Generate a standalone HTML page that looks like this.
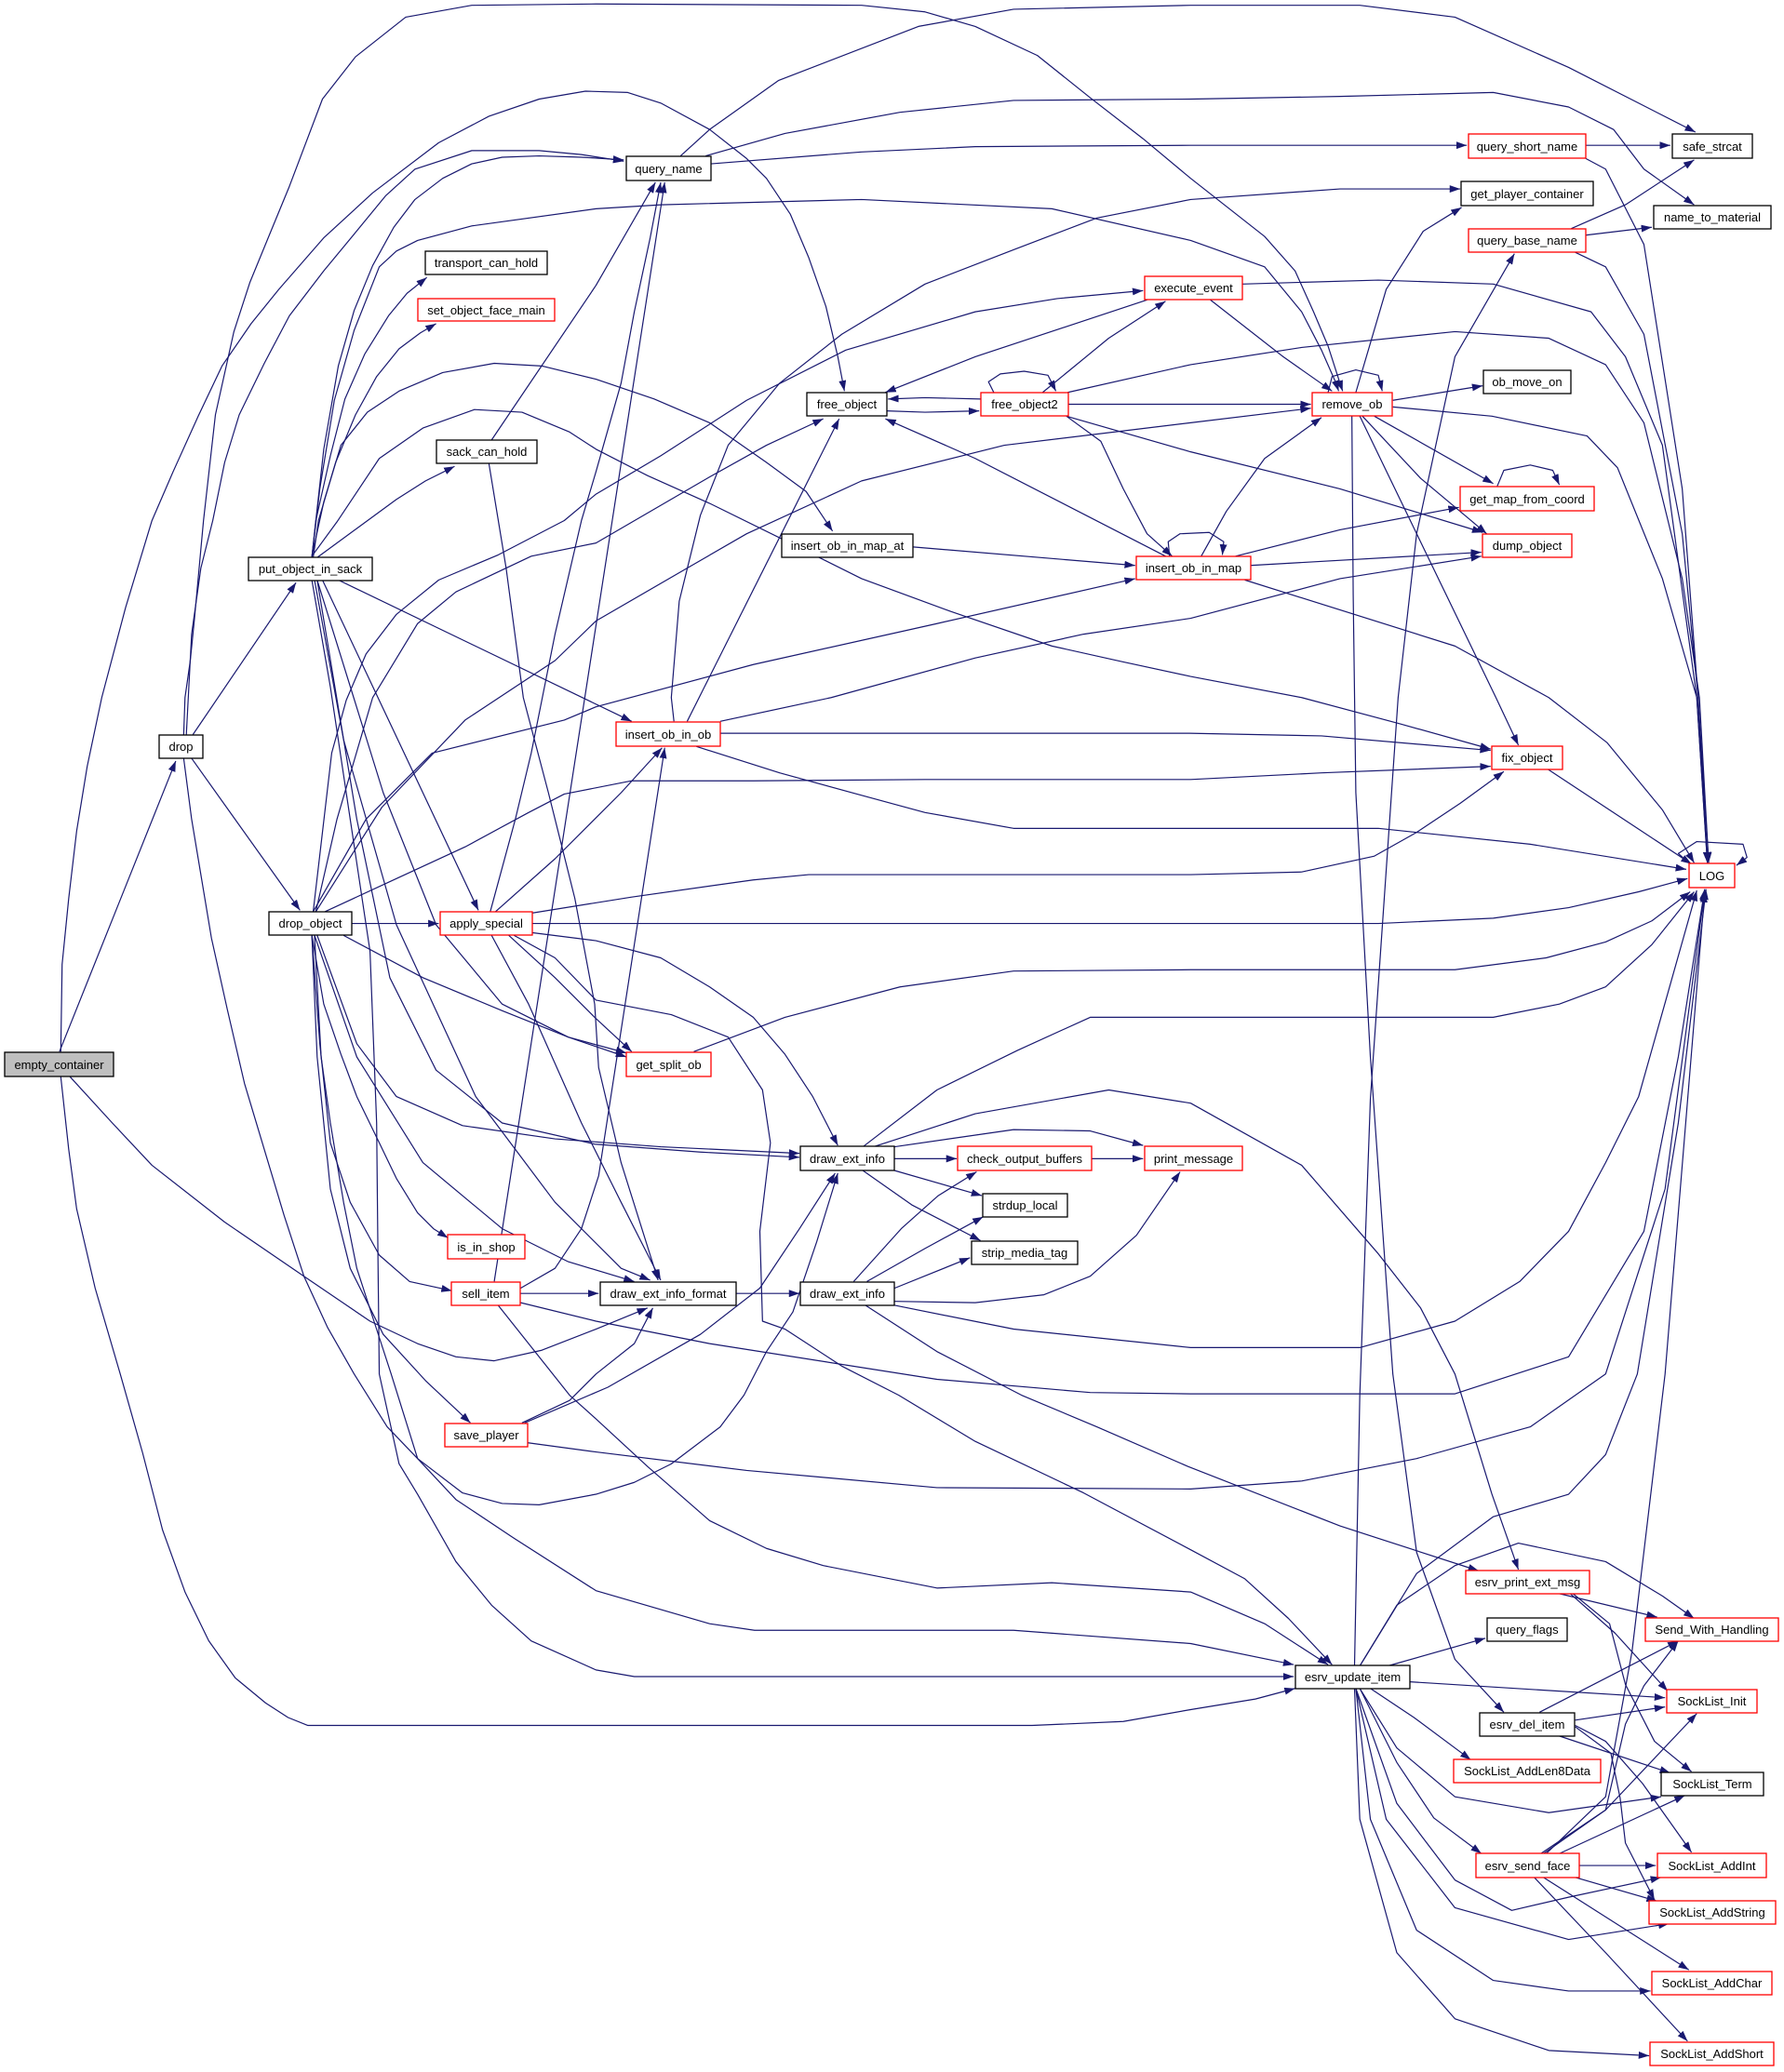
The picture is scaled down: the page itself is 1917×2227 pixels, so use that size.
<!DOCTYPE html>
<html><head><meta charset="utf-8"><style>
html,body{margin:0;padding:0;background:#fff;}
svg{display:block;}
text{font-family:"Liberation Sans",Arial,sans-serif;font-size:13px;fill:#000;text-anchor:middle;}
.e path{fill:none;stroke:#191970;stroke-width:1.2;vector-effect:non-scaling-stroke;marker-end:url(#a);stroke-linejoin:round;}
.n rect{fill:#fff;stroke:#000;stroke-width:1.3;}
.n rect.r{stroke:#ff0000;}
.n rect.g{fill:#bfbfbf;}
</style></head><body>
<svg width="1917" height="2227" viewBox="0 0 1917 2227" xmlns="http://www.w3.org/2000/svg">
<defs>
<marker id="a" viewBox="0 0 10 10" refX="10" refY="5" markerWidth="8" markerHeight="5.6" markerUnits="userSpaceOnUse" orient="auto" preserveAspectRatio="none"><path d="M0,0 L10,5 L0,10 z" fill="#191970"/></marker>
</defs>
<g class="e" transform="scale(1.42)">
<path d="M45,796 L133,576"/>
<path d="M46,796 L47,730 L52,680 L58,629 L66,580 L77,528 L95,460 L115,394 L131,357 L150,315 L168,277 L190,245 L211,219 L245,180 L282,146 L332,108 L370,88 L408,75 L443,69 L475,70 L500,78 L537,98 L565,120 L580,135 L598,162 L612,195 L625,232 L634,270 L639,296"/>
<path d="M46,815 L52,870 L58,915 L72,975 L91,1040 L108,1100 L123,1158 L140,1205 L158,1242 L178,1270 L201,1289 L218,1300 L233,1306 L451,1306 L781,1306 L850,1303 L901,1294 L950,1286 L980,1278"/>
<path d="M53,815 L85,850 L115,882 L170,925 L230,966 L280,1000 L316,1017 L345,1027 L374,1030 L410,1022 L451,1006 L490,990"/>
<path d="M146,556 L224,441"/>
<path d="M145,574 L227,689"/>
<path d="M139,556 L140,528 L144,500 L147,470 L154,394 L163,314 L177,251 L189,214 L205,175 L219,141 L244,75 L269,43 L307,13 L357,4 L451,3 L652,4 L700,9 L738,20 L785,42 L825,74 L865,105 L901,135 L957,179 L980,205 L994,236 L1005,262 L1014,290 L1016,296"/>
<path d="M141,556 L145,480 L152,430 L161,394 L170,350 L181,314 L200,275 L219,239 L245,205 L269,176 L292,148 L314,128 L357,114 L408,114 L440,117 L472,122"/>
<path d="M139,574 L145,620 L150,650 L160,710 L172,764 L185,820 L200,870 L215,920 L230,966 L248,1005 L268,1040 L293,1080 L316,1104 L350,1130 L380,1138 L408,1139 L451,1131 L480,1122 L508,1108 L545,1080 L563,1056 L580,1023 L600,993 L618,940 L634,888"/>
<path d="M236,422 L239,394 L245,340 L256,277 L268,235 L282,201 L298,172 L314,151 L335,135 L357,124 L380,119 L408,118 L440,119 L472,121"/>
<path d="M236,422 L239,394 L250,345 L261,302 L276,268 L294,239 L308,222 L323,210"/>
<path d="M237,422 L241,394 L254,350 L269,314 L285,285 L302,264 L318,252 L330,245"/>
<path d="M240,422 L270,400 L300,378 L322,364 L344,353"/>
<path d="M236,422 L242,370 L253,303 L268,250 L287,202 L300,190 L316,182 L357,171 L451,158 L500,155 L652,151 L796,158 L901,182 L957,202 L985,236 L1000,265 L1011,290 L1013,296"/>
<path d="M236,421 L245,380 L258,337 L278,312 L302,296 L335,282 L374,275 L410,277 L451,287 L495,302 L537,320 L580,350 L610,372 L630,402"/>
<path d="M236,421 L255,395 L287,347 L320,324 L359,310 L395,312 L431,327 L451,340 L490,360 L537,381 L600,412 L652,438 L720,463 L796,489 L850,501 L901,512 L985,528 L1060,548 L1128,567"/>
<path d="M244,439 L362,689"/>
<path d="M256,439 L478,546"/>
<path d="M238,439 L260,560 L300,700 L360,830 L420,910 L470,960 L492,969"/>
<path d="M240,439 L290,600 L330,700 L380,760 L430,785 L474,797"/>
<path d="M240,439 L270,620 L295,740 L330,810 L380,850 L450,866 L530,872 L605,876"/>
<path d="M236,439 L250,520 L265,620 L280,720 L285,850 L286,950 L287,1040 L302,1108 L316,1131 L345,1182 L372,1215 L402,1242 L451,1264 L480,1269 L700,1269 L901,1269 L979,1269"/>
<path d="M266,699 L332,699"/>
<path d="M237,690 L251,570 L262,530 L277,495 L300,465 L332,439 L377,420 L427,394 L451,374 L500,345 L565,303 L640,265 L738,236 L800,226 L865,220"/>
<path d="M239,690 L255,620 L282,528 L316,472 L345,448 L402,421 L451,411 L537,361 L580,337 L623,317"/>
<path d="M239,690 L289,611 L352,545 L420,500 L451,470 L520,430 L565,404 L652,364 L760,337 L901,320 L992,309"/>
<path d="M237,690 L277,620 L327,570 L427,545 L451,535 L570,503 L709,472 L859,438"/>
<path d="M246,690 L300,665 L352,641 L400,615 L427,601 L478,591 L570,591 L700,590 L901,590 L1000,585 L1128,580"/>
<path d="M260,708 L320,740 L380,765 L430,785 L474,800"/>
<path d="M240,708 L270,790 L300,830 L350,852 L420,862 L500,868 L605,873"/>
<path d="M238,708 L270,800 L320,880 L380,930 L430,955 L480,970"/>
<path d="M236,708 L245,760 L258,798 L270,830 L287,865 L300,892 L316,918 L328,930 L339,937"/>
<path d="M236,708 L242,790 L250,865 L265,910 L287,950 L310,970 L342,977"/>
<path d="M236,708 L240,800 L250,900 L265,960 L290,1010 L322,1045 L356,1077"/>
<path d="M238,708 L243,800 L250,850 L260,910 L270,960 L283,1000 L296,1040 L316,1104 L345,1135 L390,1165 L451,1204 L537,1229 L571,1234 L767,1234 L901,1244 L979,1260"/>
<path d="M371,690 L390,620 L402,570 L420,480 L440,394 L451,357 L470,290 L480,236 L492,180 L500,138"/>
<path d="M375,690 L420,650 L470,600 L501,566"/>
<path d="M403,691 L478,679 L570,666 L612,662 L901,662 L985,660 L1040,648 L1072,630 L1105,608 L1138,584"/>
<path d="M403,699 L901,699 L1043,699 L1130,695 L1187,687 L1240,675 L1277,665"/>
<path d="M403,706 L451,712 L500,725 L537,747 L570,770 L594,798 L615,830 L634,867"/>
<path d="M372,708 L400,760 L440,850 L470,910 L500,969"/>
<path d="M385,708 L420,740 L450,770 L478,796"/>
<path d="M389,708 L420,725 L451,757 L508,768 L551,785 L577,825 L583,865 L575,932 L577,1000 L594,1006 L637,1034 L680,1056 L738,1091 L820,1130 L901,1173 L942,1195 L975,1225 L1008,1260"/>
<path d="M374,970 L503,138"/>
<path d="M394,975 L420,960 L440,930 L453,890 L503,566"/>
<path d="M394,979 L453,979"/>
<path d="M394,986 L451,1000 L537,1017 L709,1044 L825,1054 L901,1055 L1101,1055 L1187,1027 L1244,932 L1270,800 L1290,673"/>
<path d="M377,988 L431,1056 L451,1074 L490,1110 L537,1151 L580,1172 L623,1185 L709,1202 L796,1198 L901,1205 L957,1229 L1005,1260"/>
<path d="M395,1077 L431,1060 L451,1040 L480,1017 L494,990"/>
<path d="M397,1077 L460,1050 L530,1010 L575,975 L605,930 L632,888"/>
<path d="M399,1092 L451,1099 L565,1113 L709,1126 L901,1127 L985,1121 L1072,1104 L1158,1080 L1215,1040 L1260,900 L1290,674"/>
<path d="M372,333 L451,216 L496,138"/>
<path d="M370,351 L383,430 L396,528 L415,600 L435,680 L450,760 L453,808 L470,880 L498,969"/>
<path d="M520,546 L635,317"/>
<path d="M510,546 L508,528 L514,455 L530,390 L551,337 L590,290 L637,253 L700,215 L767,189 L830,165 L901,151 L1014,143 L1105,143"/>
<path d="M545,555 L900,555 L1000,557 L1128,568"/>
<path d="M527,565 L590,585 L652,602 L700,615 L767,627 L901,627 L1043,627 L1158,639 L1276,658"/>
<path d="M545,546 L629,528 L738,498 L820,480 L901,468 L1014,438 L1121,421"/>
<path d="M525,796 L594,770 L681,747 L767,735 L901,734 L1101,734 L1170,725 L1215,713 L1250,697 L1279,675"/>
<path d="M557,979 L605,979"/>
<path d="M677,877 L724,877"/>
<path d="M677,868 L767,855 L825,856 L865,867"/>
<path d="M677,886 L743,905"/>
<path d="M653,886 L690,912 L742,939"/>
<path d="M653,868 L709,825 L770,795 L825,770 L901,770 L1043,770 L1130,770 L1180,760 L1215,747 L1250,715 L1282,675"/>
<path d="M661,868 L738,843 L839,825 L901,835 L985,882 L1043,949 L1075,990 L1101,1040 L1129,1131 L1149,1188"/>
<path d="M826,877 L865,877"/>
<path d="M646,970 L682,930 L710,905 L739,887"/>
<path d="M656,970 L700,945 L744,921"/>
<path d="M677,975 L734,952"/>
<path d="M677,985 L738,986 L790,980 L825,966 L860,935 L893,887"/>
<path d="M677,988 L767,1006 L901,1020 L1029,1020 L1101,1000 L1150,970 L1187,932 L1215,880 L1240,830 L1284,674"/>
<path d="M655,988 L709,1023 L773,1056 L830,1080 L899,1110 L1014,1155 L1119,1189"/>
<path d="M671,311 L700,312 L741,311"/>
<path d="M742,302 L700,301 L672,302"/>
<path d="M752,297 L748,289 L757,283 L775,281 L793,284 L799,296"/>
<path d="M789,297 L839,256 L882,228"/>
<path d="M808,306 L992,306"/>
<path d="M808,297 L901,276 L985,263 L1101,251 L1172,256 L1215,276 L1244,320 L1273,438 L1286,528 L1293,653"/>
<path d="M807,315 L833,334 L850,370 L868,404 L887,421"/>
<path d="M807,315 L901,342 L1014,370 L1122,403"/>
<path d="M868,227 L738,270 L670,297"/>
<path d="M916,227 L971,270 L1008,296"/>
<path d="M940,215 L1043,212 L1130,215 L1204,236 L1230,270 L1258,337 L1284,528 L1292,653"/>
<path d="M691,414 L859,428"/>
<path d="M882,421 L738,347 L670,317"/>
<path d="M885,421 L884,410 L893,404 L915,403 L926,410 L925,420"/>
<path d="M909,421 L928,387 L957,347 L1000,316"/>
<path d="M935,421 L1014,401 L1104,384"/>
<path d="M946,428 L1121,418"/>
<path d="M942,439 L1101,489 L1172,528 L1216,562 L1258,613 L1282,653"/>
<path d="M1026,297 L1049,219 L1077,175 L1106,157"/>
<path d="M1054,303 L1122,292"/>
<path d="M1054,308 L1129,315 L1201,330 L1224,354 L1258,438 L1284,528 L1292,653"/>
<path d="M1040,315 L1130,366"/>
<path d="M1031,315 L1075,362 L1112,393 L1125,404"/>
<path d="M1029,315 L1132,528 L1149,564"/>
<path d="M1005,297 L1008,285 L1026,280 L1043,284 L1046,296"/>
<path d="M1023,315 L1024,450 L1026,600 L1037,800 L1054,1040 L1072,1175 L1101,1256 L1138,1296"/>
<path d="M1200,110 L1264,110"/>
<path d="M1200,120 L1215,128 L1244,185 L1273,370 L1285,528 L1293,653"/>
<path d="M1189,173 L1230,155 L1282,121"/>
<path d="M1200,178 L1250,172"/>
<path d="M1192,191 L1215,202 L1244,253 L1273,404 L1285,528 L1292,653"/>
<path d="M515,118 L537,98 L589,61 L695,20 L767,7 L901,4 L1029,4 L1101,13 L1187,51 L1283,100"/>
<path d="M538,124 L652,115 L738,111 L901,110 L1110,110"/>
<path d="M534,118 L594,101 L681,85 L767,76 L901,75 L1014,73 L1130,70 L1187,81 L1221,98 L1244,128 L1282,155"/>
<path d="M1133,368 L1138,356 L1158,352 L1175,356 L1180,367"/>
<path d="M1171,582 L1280,654"/>
<path d="M1280,655 L1270,646 L1284,637 L1319,639 L1322,649 L1314,655"/>
<path d="M1025,1261 L1029,1056 L1037,832 L1058,528 L1072,404 L1101,270 L1146,192"/>
<path d="M1029,1261 L1072,1191 L1130,1148 L1187,1131 L1215,1101 L1239,1040 L1270,850 L1291,673"/>
<path d="M1050,1261 L1124,1240"/>
<path d="M1029,1261 L1057,1215 L1101,1185 L1149,1168 L1215,1182 L1258,1208 L1282,1225"/>
<path d="M1067,1273 L1260,1285"/>
<path d="M1037,1278 L1070,1300 L1113,1332"/>
<path d="M1029,1278 L1057,1323 L1101,1360 L1172,1372 L1257,1360"/>
<path d="M1029,1278 L1057,1334 L1085,1376 L1121,1403"/>
<path d="M1026,1278 L1057,1365 L1101,1423 L1144,1446 L1187,1436 L1257,1421"/>
<path d="M1026,1278 L1049,1377 L1101,1444 L1187,1468 L1263,1456"/>
<path d="M1026,1278 L1037,1377 L1072,1461 L1130,1499 L1187,1507 L1249,1507"/>
<path d="M1025,1278 L1029,1377 L1057,1478 L1101,1528 L1172,1552 L1248,1556"/>
<path d="M1179,1206 L1254,1224"/>
<path d="M1188,1206 L1222,1236 L1262,1280"/>
<path d="M1190,1206 L1218,1229 L1230,1275 L1252,1318 L1280,1341"/>
<path d="M1165,1296 L1270,1242"/>
<path d="M1192,1302 L1260,1292"/>
<path d="M1180,1314 L1264,1342"/>
<path d="M1192,1306 L1215,1318 L1243,1350 L1280,1402"/>
<path d="M1192,1307 L1219,1327 L1226,1361 L1230,1395 L1252,1438"/>
<path d="M1166,1403 L1215,1370 L1230,1305 L1244,1276 L1270,1242"/>
<path d="M1168,1403 L1215,1370 L1284,1297"/>
<path d="M1180,1403 L1275,1359"/>
<path d="M1195,1412 L1253,1412"/>
<path d="M1192,1421 L1254,1439"/>
<path d="M1168,1421 L1278,1491"/>
<path d="M1161,1421 L1215,1478 L1277,1545"/>
<path d="M1170,1403 L1215,1360 L1235,1250 L1260,1040 L1290,675"/>
</g>
<g class="n">
<rect class="g" x="5" y="1131" width="117" height="26"/><text x="63.5" y="1149">empty_container</text>
<rect x="171" y="790" width="47" height="25"/><text x="194.5" y="807">drop</text>
<rect x="267" y="599" width="133" height="25"/><text x="333.5" y="616">put_object_in_sack</text>
<rect x="289" y="980" width="89" height="25"/><text x="333.5" y="997">drop_object</text>
<rect x="673" y="168" width="91" height="26"/><text x="718.5" y="186">query_name</text>
<rect x="457" y="270" width="131" height="25"/><text x="522.5" y="287">transport_can_hold</text>
<rect class="r" x="449" y="321" width="147" height="24"/><text x="522.5" y="338">set_object_face_main</text>
<rect x="469" y="473" width="108" height="25"/><text x="523" y="490">sack_can_hold</text>
<rect class="r" x="473" y="980" width="99" height="25"/><text x="522.5" y="997">apply_special</text>
<rect class="r" x="481" y="1327" width="83" height="26"/><text x="522.5" y="1345">is_in_shop</text>
<rect class="r" x="485" y="1378" width="74" height="25"/><text x="522" y="1395">sell_item</text>
<rect class="r" x="478" y="1530" width="89" height="25"/><text x="522.5" y="1547">save_player</text>
<rect class="r" x="662" y="776" width="112" height="26"/><text x="718" y="794">insert_ob_in_ob</text>
<rect class="r" x="673" y="1131" width="91" height="26"/><text x="718.5" y="1149">get_split_ob</text>
<rect x="645" y="1378" width="146" height="25"/><text x="718" y="1395">draw_ext_info_format</text>
<rect x="860" y="1232" width="101" height="26"/><text x="910.5" y="1250">draw_ext_info</text>
<rect x="860" y="1378" width="101" height="25"/><text x="910.5" y="1395">draw_ext_info</text>
<rect x="867" y="422" width="86" height="25"/><text x="910" y="439">free_object</text>
<rect class="r" x="1054" y="422" width="94" height="25"/><text x="1101" y="439">free_object2</text>
<rect class="r" x="1230" y="297" width="105" height="25"/><text x="1282.5" y="314">execute_event</text>
<rect x="840" y="574" width="141" height="25"/><text x="910.5" y="591">insert_ob_in_map_at</text>
<rect class="r" x="1221" y="598" width="123" height="25"/><text x="1282.5" y="615">insert_ob_in_map</text>
<rect class="r" x="1410" y="422" width="86" height="25"/><text x="1453" y="439">remove_ob</text>
<rect x="1570" y="195" width="142" height="26"/><text x="1641" y="213">get_player_container</text>
<rect class="r" x="1578" y="144" width="126" height="26"/><text x="1641" y="162">query_short_name</text>
<rect class="r" x="1578" y="246" width="126" height="25"/><text x="1641" y="263">query_base_name</text>
<rect x="1797" y="144" width="86" height="26"/><text x="1840" y="162">safe_strcat</text>
<rect x="1777" y="221" width="126" height="25"/><text x="1840" y="238">name_to_material</text>
<rect x="1594" y="398" width="94" height="25"/><text x="1641" y="415">ob_move_on</text>
<rect class="r" x="1569" y="523" width="144" height="26"/><text x="1641" y="541">get_map_from_coord</text>
<rect class="r" x="1593" y="574" width="96" height="25"/><text x="1641" y="591">dump_object</text>
<rect class="r" x="1603" y="802" width="76" height="25"/><text x="1641" y="819">fix_object</text>
<rect class="r" x="1815" y="928" width="49" height="26"/><text x="1839.5" y="946">LOG</text>
<rect class="r" x="1029" y="1232" width="144" height="26"/><text x="1101" y="1250">check_output_buffers</text>
<rect class="r" x="1230" y="1232" width="105" height="26"/><text x="1282.5" y="1250">print_message</text>
<rect x="1056" y="1283" width="91" height="25"/><text x="1101.5" y="1300">strdup_local</text>
<rect x="1044" y="1334" width="114" height="25"/><text x="1101" y="1351">strip_media_tag</text>
<rect class="r" x="1575" y="1688" width="133" height="25"/><text x="1641.5" y="1705">esrv_print_ext_msg</text>
<rect x="1598" y="1739" width="86" height="25"/><text x="1641" y="1756">query_flags</text>
<rect class="r" x="1768" y="1739" width="143" height="25"/><text x="1839.5" y="1756">Send_With_Handling</text>
<rect x="1392" y="1790" width="123" height="25"/><text x="1453.5" y="1807">esrv_update_item</text>
<rect class="r" x="1791" y="1816" width="97" height="25"/><text x="1839.5" y="1833">SockList_Init</text>
<rect x="1590" y="1841" width="102" height="25"/><text x="1641" y="1858">esrv_del_item</text>
<rect class="r" x="1562" y="1891" width="158" height="25"/><text x="1641" y="1908">SockList_AddLen8Data</text>
<rect x="1785" y="1905" width="110" height="25"/><text x="1840" y="1922">SockList_Term</text>
<rect class="r" x="1586" y="1992" width="111" height="26"/><text x="1641.5" y="2010">esrv_send_face</text>
<rect class="r" x="1781" y="1992" width="117" height="26"/><text x="1839.5" y="2010">SockList_AddInt</text>
<rect class="r" x="1772" y="2043" width="136" height="25"/><text x="1840" y="2060">SockList_AddString</text>
<rect class="r" x="1775" y="2119" width="129" height="25"/><text x="1839.5" y="2136">SockList_AddChar</text>
<rect class="r" x="1773" y="2195" width="133" height="25"/><text x="1839.5" y="2212">SockList_AddShort</text>
</g>
</svg>
</body></html>
